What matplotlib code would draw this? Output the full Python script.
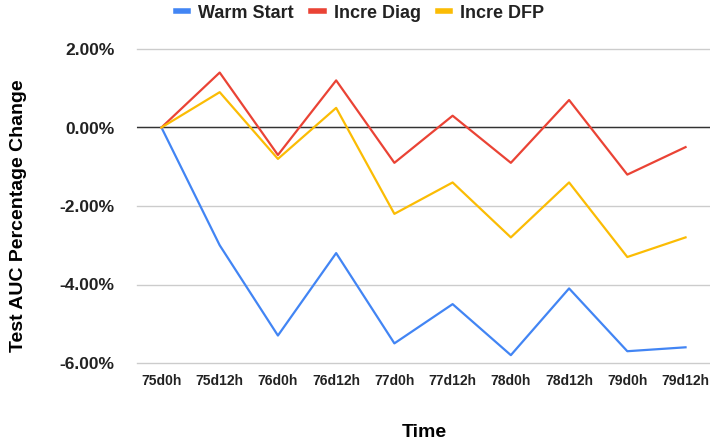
import numpy as np
import matplotlib.pyplot as plt
from matplotlib.ticker import FuncFormatter

plt.rcParams['font.family'] = ['Liberation Sans', 'DejaVu Sans']

# Data (percent change)
times = ['75d0h', '75d12h', '76d0h', '76d12h', '77d0h',
         '77d12h', '78d0h', '78d12h', '79d0h', '79d12h']
warm_start = [0.0, -3.0, -5.3, -3.2, -5.5, -4.5, -5.8, -4.1, -5.7, -5.6]
incre_diag = [0.0, 1.4, -0.7, 1.2, -0.9, 0.3, -0.9, 0.7, -1.2, -0.5]
incre_dfp = [0.0, 0.9, -0.8, 0.5, -2.2, -1.4, -2.8, -1.4, -3.3, -2.8]

fig = plt.figure(figsize=(7.1, 4.44), dpi=100)
ax = fig.add_axes([137 / 710, 1 - 363 / 444, 573 / 710, 314 / 444])

x = np.arange(len(times))
ax.plot(x, warm_start, color='#4285F4', lw=1.6, label='Warm Start')
ax.plot(x, incre_diag, color='#EA4335', lw=1.6, label='Incre Diag')
ax.plot(x, incre_dfp, color='#FBBC04', lw=1.6, label='Incre DFP')

ax.set_xlim(-0.42, 9.42)
ax.set_ylim(-6.0, 2.0)
ax.set_yticks([-6, -4, -2, 0, 2])
ax.yaxis.set_major_formatter(FuncFormatter(lambda v, p: f'{v:.2f}%'))
ax.set_xticks(x)
ax.set_xticklabels(times)

for s in ax.spines.values():
    s.set_visible(False)
ax.grid(axis='y', color='#cccccc', lw=1)
ax.set_axisbelow(True)
ax.axhline(0, color='#333333', lw=1, zorder=1.5)
for gl in ax.get_ygridlines():
    gl.set_clip_on(False)

ax.tick_params(axis='y', length=0, pad=16, labelsize=12.5)
ax.tick_params(axis='x', length=0, pad=8, labelsize=10)
for lbl in ax.get_xticklabels() + ax.get_yticklabels():
    lbl.set_fontweight('bold')
    lbl.set_color('#222222')

fig.text(19 / 710, 1 - 216 / 444, 'Test AUC Percentage Change', rotation=90,
         ha='center', va='center', fontsize=14, fontweight='bold')
fig.text(424 / 710, 1 - 432 / 444, 'Time', ha='center', va='center',
         fontsize=14, fontweight='bold')

leg = fig.legend(loc='center', bbox_to_anchor=(360 / 710, 1 - 13 / 444), ncol=3,
                 frameon=False, handlelength=0.7, handletextpad=0.55,
                 columnspacing=0.95, prop={'weight': 'bold', 'size': 13})
for h in leg.get_lines():
    h.set_linewidth(4)
for t in leg.get_texts():
    t.set_color('#222222')

fig.savefig('out.png', dpi=100)
